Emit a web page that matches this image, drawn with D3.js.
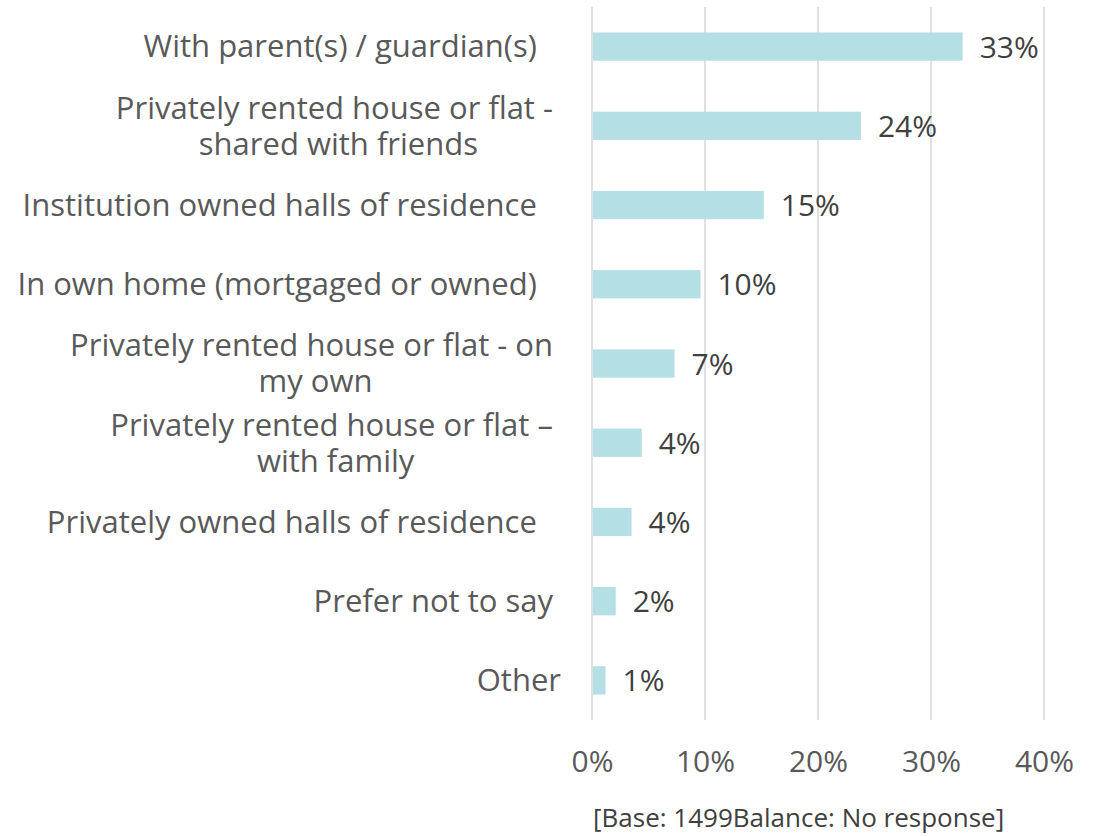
<!DOCTYPE html>
<html>
<head>
<meta charset="utf-8">
<script src="https://cdn.jsdelivr.net/npm/d3@7/dist/d3.min.js"></script>
<style>
  html, body { margin: 0; padding: 0; background: #ffffff; }
  svg { display: block; }
  text { font-family: "Open Sans", "Liberation Sans", sans-serif; white-space: pre; }
</style>
</head>
<body>
<svg id="chart" width="1097" height="836"></svg>
<script>
// Accommodation type while studying — share of respondents
const categories = [
  ["With parent(s) / guardian(s)   "],
  ["Privately rented house or flat - ", "shared with friends"],
  ["Institution owned halls of residence   "],
  ["In own home (mortgaged or owned)   "],
  ["Privately rented house or flat - on ", "my own"],
  ["Privately rented house or flat – ", "with family"],
  ["Privately owned halls of residence   "],
  ["Prefer not to say "],
  ["Other"]
];
const values = [0.328, 0.238, 0.152, 0.096, 0.073, 0.044, 0.035, 0.021, 0.012];
const xTicks = [0, 0.1, 0.2, 0.3, 0.4];
const baseNote = "[Base: 1499Balance: No response]";

const svg = d3.select("#chart");
const plot = { left: 592, right: 1044, top: 7, bottom: 720 };

const keys = categories.map(c => c.join(" "));

const x = d3.scaleLinear().domain([0, 0.4]).range([plot.left, plot.right]);
const y = d3.scaleBand().domain(keys).range([plot.top, plot.bottom])
  .paddingInner(0.643).paddingOuter(0.3215);

const pct = d3.format(".0%");

// vertical gridlines
svg.append("g")
  .selectAll("line")
  .data(xTicks)
  .join("line")
  .attr("x1", d => x(d)).attr("x2", d => x(d))
  .attr("y1", plot.top).attr("y2", plot.bottom)
  .attr("stroke", "#d9d9d9")
  .attr("stroke-width", 1.6);

// x-axis tick labels
const xAxis = d3.axisBottom(x).tickValues(xTicks).tickFormat(pct).tickSize(0).tickPadding(0);
const gx = svg.append("g").attr("transform", `translate(0, ${plot.bottom})`).call(xAxis);
gx.select(".domain").remove();
gx.selectAll("text")
  .attr("y", 52)
  .attr("dy", null)
  .attr("fill", "#595959")
  .style("font-size", "30px")
  .style("font-family", "\"Open Sans\", sans-serif");

// bars
svg.append("g")
  .selectAll("rect")
  .data(values)
  .join("rect")
  .attr("x", x(0) + 1)
  .attr("y", (d, i) => y(keys[i]))
  .attr("width", d => x(d) - x(0) - 1)
  .attr("height", y.bandwidth())
  .attr("fill", "#b4dfe4");

// value labels
svg.append("g")
  .selectAll("text")
  .data(values)
  .join("text")
  .attr("x", d => x(d) + 17)
  .attr("y", (d, i) => y(keys[i]) + y.bandwidth() / 2)
  .attr("dy", "0.37em")
  .attr("fill", "#404040")
  .style("font-size", "30px")
  .text(d => pct(d));

// category labels: lines centred within a block right-aligned to the axis
const labelRight = 561;
const lineH = 36;
const gl = svg.append("g");
categories.forEach((lines, i) => {
  const cy = y(keys[i]) + y.bandwidth() / 2;
  const t = gl.append("text")
    .attr("fill", "#595959")
    .style("font-size", "31px")
    .attr("text-anchor", "middle");
  const spans = lines.map(ln => t.append("tspan").text(ln));
  const widths = spans.map(s => s.node().getComputedTextLength());
  const blockW = d3.max(widths);
  const cx = labelRight - blockW / 2;
  const y0 = cy - (lines.length - 1) * lineH / 2;
  spans.forEach((s, j) => {
    s.attr("x", cx).attr("y", y0 + j * lineH).attr("dy", "0.35em");
  });
});

// base note
svg.append("text")
  .attr("x", 593)
  .attr("y", 827)
  .attr("fill", "#404040")
  .style("font-size", "26px")
  .text(baseNote);
</script>
</body>
</html>
